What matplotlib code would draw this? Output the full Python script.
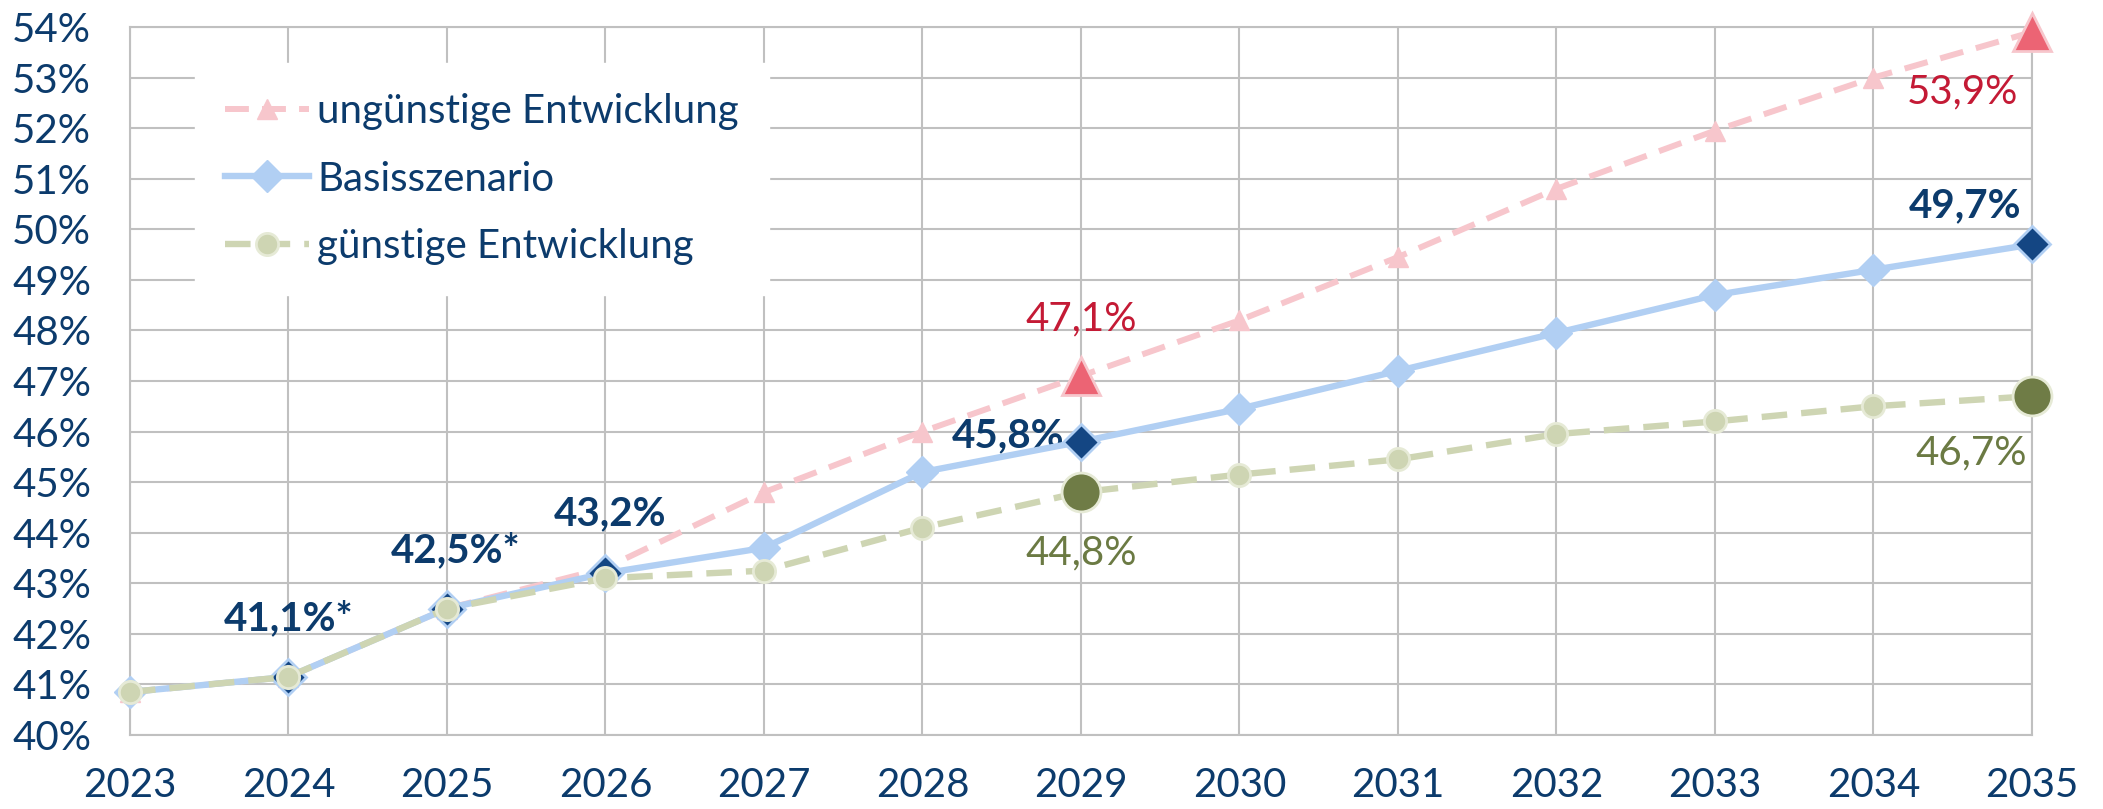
import numpy as np
import matplotlib
matplotlib.use("Agg")
import matplotlib.pyplot as plt

# Daten
jahre = np.arange(2023, 2036)
unguenstig = [40.85, 41.15, 42.5, 43.3, 44.8, 46.0, 47.1, 48.2, 49.45, 50.8, 51.95, 53.0, 53.9]
basis = [40.85, 41.15, 42.5, 43.2, 43.7, 45.2, 45.8, 46.45, 47.2, 47.95, 48.7, 49.2, 49.7]
guenstig = [40.85, 41.15, 42.5, 43.1, 43.25, 44.1, 44.8, 45.15, 45.45, 45.95, 46.2, 46.5, 46.7]

namen = ["ungünstige Entwicklung", "Basisszenario", "günstige Entwicklung"]

# hervorgehobene Punkte (Index in den Reihen)
hl_basis = [1, 2, 3, 6, 12]
hl_ung = [6, 12]
hl_gue = [6, 12]

dunkelblau = "#0c3b6c"
rosa = "#f7c6cc"
rot_marker = "#ec6474"
rot_text = "#c41a35"
hellblau = "#b1cff3"
blau_marker = "#144683"
hellgruen = "#ced5b3"
gruen_marker = "#6f7c46"
gruen_text = "#6b7a43"
grau = "#c0c0c0"

plt.rcParams["font.family"] = ["Lato", "DejaVu Sans"]
fs = 29

fig = plt.figure(figsize=(21.03, 8.09), dpi=100)
ax = fig.add_axes([0.0618, 0.0915, 0.9044, 0.8751])

j = np.array(jahre)
u = np.array(unguenstig)
b = np.array(basis)
g = np.array(guenstig)

l1, = ax.plot(j, u, color=rosa, lw=4.3, dashes=(4, 2.2), marker="^", ms=15,
              mfc=rosa, mec=rosa, clip_on=False, zorder=3)
l2, = ax.plot(j, b, color=hellblau, lw=4.6, marker="D", ms=16,
              mfc=hellblau, mec=hellblau, clip_on=False, zorder=4)
ax.plot(j[hl_basis], b[hl_basis], ls="none", marker="D", ms=18,
        mfc=blau_marker, mec=hellblau, mew=2, clip_on=False, zorder=5)
ax.plot(j[hl_ung], u[hl_ung], ls="none", marker="^", ms=27,
        mfc=rot_marker, mec=rosa, mew=2, clip_on=False, zorder=5)
l3, = ax.plot(j, g, color=hellgruen, lw=4.6, dashes=(4, 2.2), marker="o", ms=16,
              mfc=hellgruen, mec="#e6ead6", mew=2, clip_on=False, zorder=6)
ax.plot(j[hl_gue], g[hl_gue], ls="none", marker="o", ms=28,
        mfc=gruen_marker, mec="#e6ead6", mew=2, clip_on=False, zorder=7)

ax.set_xlim(2023, 2035)
ax.set_ylim(40, 54)
ax.set_xticks(jahre)
ax.set_yticks(range(40, 55))
ax.set_yticklabels([f"{v}%" for v in range(40, 55)])
ax.tick_params(axis="both", length=0, labelsize=fs, colors=dunkelblau)
ax.tick_params(axis="x", pad=23)
ax.tick_params(axis="y", pad=28)
ax.grid(True, color=grau, lw=1.5)
ax.set_axisbelow(True)
for s in ax.spines.values():
    s.set_color(grau)
    s.set_linewidth(1.5)

def fmt(v):
    return f"{v:.1f}%".replace(".", ",")

# Beschriftungen
fett = dict(fontsize=fs, fontweight="bold", color=dunkelblau, ha="center", va="center")
ax.annotate(fmt(b[1]) + "*", (j[1], b[1]), xytext=(0, 42), textcoords="offset points", **fett)
ax.annotate(fmt(b[2]) + "*", (j[2], b[2]), xytext=(6, 42), textcoords="offset points", **fett)
ax.annotate(fmt(b[3]), (j[3], b[3]), xytext=(3, 43), textcoords="offset points", **fett)
ax.annotate(fmt(b[6]), (j[6], b[6]), xytext=(-12, 4), textcoords="offset points",
            fontsize=fs, fontweight="bold", color=dunkelblau, ha="right", va="center")
ax.annotate(fmt(b[12]), (j[12], b[12]), xytext=(-48, 28), textcoords="offset points", **fett)

normal = dict(fontsize=fs, ha="center", va="center")
ax.annotate(fmt(u[6]), (j[6], u[6]), xytext=(0, 41), textcoords="offset points", color=rot_text, **normal)
ax.annotate(fmt(u[12]), (j[12], u[12]), xytext=(-50, -43), textcoords="offset points", color=rot_text, **normal)
ax.annotate(fmt(g[6]), (j[6], g[6]), xytext=(0, -44), textcoords="offset points", color=gruen_text, **normal)
ax.annotate(fmt(g[12]), (j[12], g[12]), xytext=(-44, -41), textcoords="offset points", color=gruen_text, **normal)

leg = ax.legend([l1, l2, l3], namen, loc="upper left", bbox_to_anchor=(0.034, 0.949),
                borderaxespad=0, fontsize=fs, frameon=True, fancybox=False,
                handlelength=2.1, handletextpad=0.2, labelspacing=0.75, borderpad=0.75)
leg.get_frame().set_facecolor("white")
leg.get_frame().set_edgecolor("white")
leg.get_frame().set_alpha(1)
for t in leg.get_texts():
    t.set_color(dunkelblau)
leg.set_zorder(10)

fig.savefig("out.png", dpi=100)
